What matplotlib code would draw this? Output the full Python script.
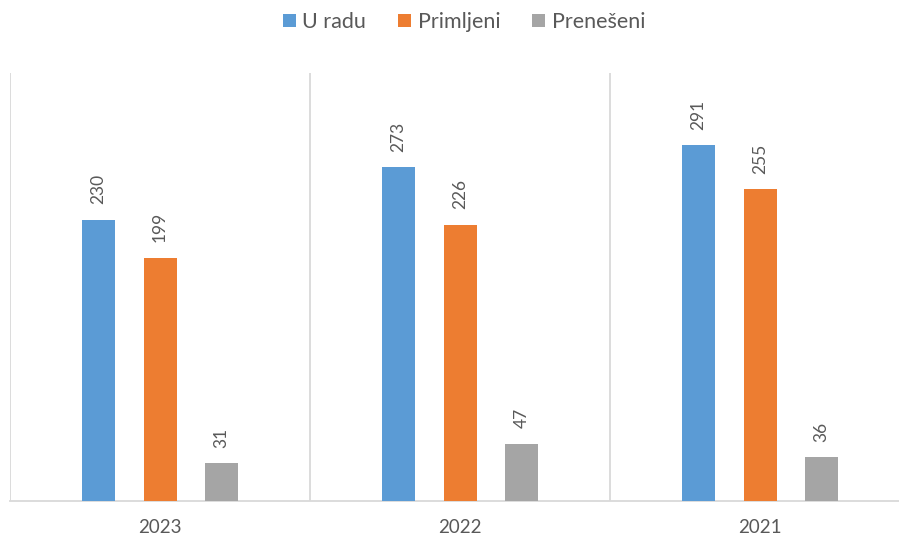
import numpy as np
import matplotlib.pyplot as plt

plt.rcParams['font.family'] = ['Lato', 'DejaVu Sans']

years = ['2023', '2022', '2021']
series = ['U radu', 'Primljeni', 'Prenešeni']
u_radu = [230, 273, 291]
primljeni = [199, 226, 255]
preneseni = [31, 47, 36]
colors = ['#5B9BD5', '#ED7D31', '#A5A5A5']

fig = plt.figure(figsize=(8.99, 5.39), dpi=100)
ax = fig.add_axes([10 / 899, 38 / 539, 900 / 899, 428 / 539])

x = np.arange(len(years))
offsets = [-0.206, 0.0, 0.206]
width = 0.11

for vals, off, c, name in zip([u_radu, primljeni, preneseni], offsets, colors, series):
    bars = ax.bar(x + off, vals, width, color=c, label=name, zorder=3)
    for b, v in zip(bars, vals):
        ax.annotate(str(v), (b.get_x() + b.get_width() / 2, v),
                    xytext=(0, 11), textcoords='offset points',
                    ha='center', va='bottom', rotation=90,
                    fontsize=12.5, color='#595959')

ax.set_xlim(-0.5, 2.5)
ax.set_ylim(0, 350)

# razdjelnici izmedju godina
for b in [-0.5, 0.5, 1.5, 2.5]:
    ax.axvline(b, color='#D9D9D9', lw=1.3, zorder=1)

for s in ['top', 'right', 'left']:
    ax.spines[s].set_visible(False)
ax.spines['bottom'].set_color('#D9D9D9')
ax.spines['bottom'].set_linewidth(1.3)

ax.set_yticks([])
ax.set_xticks(x)
ax.set_xticklabels(years, fontsize=13.5, color='#595959')
ax.tick_params(axis='x', length=0, pad=13)

fig.legend(loc='center', bbox_to_anchor=(464 / 899, 1 - 22 / 539), ncol=3,
           frameon=False, fontsize=15.5, handlelength=0.6, handleheight=0.6,
           handletextpad=0.3, columnspacing=1.5, labelcolor='#595959')

fig.savefig('out.png', dpi=100)
